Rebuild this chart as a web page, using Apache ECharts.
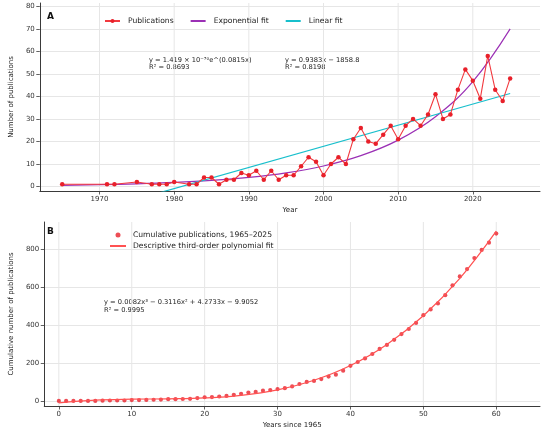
<!DOCTYPE html>
<html><head><meta charset="utf-8">
<script src="https://cdn.jsdelivr.net/npm/echarts@6/dist/echarts.min.js"></script>
<style>html,body{margin:0;padding:0;background:#fff}#c{width:550px;height:436px}</style>
</head><body><div id="c"></div>
<script>
// ---- Panel A data ----
const pubYears = [1965,1971,1972,1975,1977,1978,1979,1980,1982,1983,1984,1985,1986,1987,1988,1989,1990,1991,1992,1993,1994,1995,1996,1997,1998,1999,2000,2001,2002,2003,2004,2005,2006,2007,2008,2009,2010,2011,2012,2013,2014,2015,2016,2017,2018,2019,2020,2021,2022,2023,2024,2025];
const pubCounts = [1,1,1,2,1,1,1,2,1,1,4,4,1,3,3,6,5,7,3,7,3,5,5,9,13,11,5,10,13,10,21,26,20,19,23,27,21,27,30,27,32,41,30,32,43,52,47,39,58,43,38,48];
const expYears = [1965,1970,1975,1980,1985,1990,1995,2000,2005,2010,2015,2020,2025];
const expValues = [0.53,0.79,1.19,1.79,2.69,4.04,6.07,9.12,13.7,20.6,31.0,46.6,70.0];
const linYears = [1965,2025];
const linValues = [-15.0,41.3];
const yearTicks = [1970,1980,1990,2000,2010,2020];
const countTicks = [0,10,20,30,40,50,60,70,80];
// ---- Panel B data ----
const cumX = [0,1,2,3,4,5,6,7,8,9,10,11,12,13,14,15,16,17,18,19,20,21,22,23,24,25,26,27,28,29,30,31,32,33,34,35,36,37,38,39,40,41,42,43,44,45,46,47,48,49,50,51,52,53,54,55,56,57,58,59,60];
const cumValues = [1,1,1,1,1,1,2,3,3,3,5,5,6,7,8,10,10,11,12,16,20,21,24,27,33,38,45,48,55,58,63,68,77,90,101,106,116,129,139,160,186,206,225,248,275,296,323,353,380,412,453,483,515,558,610,657,696,754,797,835,883];
const polyX = [0,5,10,15,20,25,30,35,40,45,50,55,60];
const polyValues = [-9.91,4.70,9.87,11.76,16.52,30.30,59.26,109.53,187.27,298.63,449.76,646.81,895.93];
const sinceTicks = [0,10,20,30,40,50,60];
const cumTicks = [0,200,400,600,800];

const zip = (a, b) => a.map((v, i) => [v, b[i]]);
const FF = 'DejaVu Sans';
const AX = '#3a3a3a';
const GRID = '#e6e6e6';
const yA = [-2, 81.5], yB = [-26, 944];
function axis(extra, ticks, split) {
  return Object.assign({
    type: 'value',
    axisLine: {show: true, onZero: false, lineStyle: {color: AX, width: 1}},
    axisTick: {show: true, length: 3.5, lineStyle: {color: AX, width: 0.8}, customValues: ticks},
    axisLabel: {customValues: ticks, fontSize: 7, color: '#333', fontFamily: FF, margin: 5, formatter: v => String(v)},
    splitLine: {show: split, lineStyle: {color: GRID, width: 1}},
    nameLocation: 'middle',
    nameTextStyle: {fontSize: 7, color: '#222', fontFamily: FF}
  }, extra);
}
// vertical grid lines built from the tick arrays and the axis extents
function vGridSeries(ticks, yr, idx) {
  return ticks.map(t => ({
    type: 'line', xAxisIndex: idx, yAxisIndex: idx, silent: true, symbol: 'none', z: 1,
    data: [[t, yr[0]], [t, yr[1]]],
    lineStyle: {color: GRID, width: 1}, emphasis: {disabled: true}, tooltip: {show: false}
  }));
}
const noSym = {opacity: 0};
const chart = echarts.init(document.getElementById('c'));
chart.setOption({
  animation: false,
  backgroundColor: '#fff',
  textStyle: {fontFamily: FF},
  grid: [
    {left: 37, right: 10, top: 3, height: 188},
    {left: 37, right: 10, top: 222, height: 184}
  ],
  xAxis: [
    axis({gridIndex: 0, min: 1962, max: 2029, name: 'Year', nameGap: 16}, yearTicks, false),
    axis({gridIndex: 1, min: -2, max: 66, name: 'Years since 1965', nameGap: 16}, sinceTicks, false)
  ],
  yAxis: [
    axis({gridIndex: 0, min: yA[0], max: yA[1], name: 'Number of publications', nameGap: 20}, countTicks, true),
    axis({gridIndex: 1, min: yB[0], max: yB[1], name: 'Cumulative number of publications', nameGap: 25}, cumTicks, true)
  ],
  legend: [
    {
      data: ['Publications', {name: 'Exponential fit', itemStyle: noSym}, {name: 'Linear fit', itemStyle: noSym}],
      left: 104, top: 17, padding: 0, itemWidth: 15, itemHeight: 5, itemGap: 16, selectedMode: false,
      textStyle: {fontSize: 7.6, color: '#222', fontFamily: FF, padding: [0, 0, 0, 3]}
    },
    {
      data: [{name: 'Cumulative publications, 1965–2025', icon: 'circle'}, {name: 'Descriptive third-order polynomial fit', itemStyle: noSym}],
      orient: 'vertical', left: 109, top: 231, padding: 0, itemWidth: 16, itemHeight: 5, itemGap: 3, selectedMode: false,
      textStyle: {fontSize: 7.6, color: '#222', fontFamily: FF, padding: [0, 0, 0, 2]}
    }
  ],
  graphic: [
    {type: 'text', left: 47, top: 12, style: {text: 'A', fontSize: 9, fontWeight: 'bold', fill: '#111', fontFamily: FF}},
    {type: 'text', left: 47, top: 227, style: {text: 'B', fontSize: 9, fontWeight: 'bold', fill: '#111', fontFamily: FF}},
    {type: 'text', left: 149, top: 56.5, style: {text: 'y = 1.419 × 10⁻⁷⁰e^(0.0815x)', fontSize: 6.7, fill: '#222', fontFamily: FF}},
    {type: 'text', left: 149, top: 63.5, style: {text: 'R² = 0.8693', fontSize: 6.7, fill: '#222', fontFamily: FF}},
    {type: 'text', left: 285, top: 56.5, style: {text: 'y = 0.9383x − 1858.8', fontSize: 6.7, fill: '#222', fontFamily: FF}},
    {type: 'text', left: 285, top: 63.5, style: {text: 'R² = 0.8198', fontSize: 6.7, fill: '#222', fontFamily: FF}},
    {type: 'text', left: 104, top: 298.5, style: {text: 'y = 0.0082x³ − 0.3116x² + 4.2733x − 9.9052', fontSize: 6.7, fill: '#222', fontFamily: FF}},
    {type: 'text', left: 104, top: 306.5, style: {text: 'R² = 0.9995', fontSize: 6.7, fill: '#222', fontFamily: FF}}
  ],
  series: [].concat(
    vGridSeries(yearTicks, yA, 0),
    vGridSeries(sinceTicks, yB, 1),
    [
      {type: 'line', name: 'Exponential fit', xAxisIndex: 0, yAxisIndex: 0, data: zip(expYears, expValues),
       smooth: 0.4, symbol: 'none', lineStyle: {color: '#9b30b5', width: 1.2}, itemStyle: {color: '#9b30b5'}},
      {type: 'line', name: 'Linear fit', xAxisIndex: 0, yAxisIndex: 0, data: zip(linYears, linValues),
       symbol: 'none', clip: true, lineStyle: {color: '#17bfcc', width: 1.2}, itemStyle: {color: '#17bfcc'}},
      {type: 'line', name: 'Publications', xAxisIndex: 0, yAxisIndex: 0, data: zip(pubYears, pubCounts),
       symbol: 'circle', symbolSize: 4.5, lineStyle: {color: '#f2393e', width: 1.1}, itemStyle: {color: '#e8202a'}},
      {type: 'line', name: 'Descriptive third-order polynomial fit', xAxisIndex: 1, yAxisIndex: 1, data: zip(polyX, polyValues),
       smooth: 0.4, symbol: 'none', lineStyle: {color: '#ff5252', width: 1.2}, itemStyle: {color: '#ff5252'}},
      {type: 'scatter', name: 'Cumulative publications, 1965–2025', xAxisIndex: 1, yAxisIndex: 1, data: zip(cumX, cumValues),
       symbol: 'circle', symbolSize: 4.2, itemStyle: {color: '#e8202a'}}
    ]
  )
});
</script></body></html>
